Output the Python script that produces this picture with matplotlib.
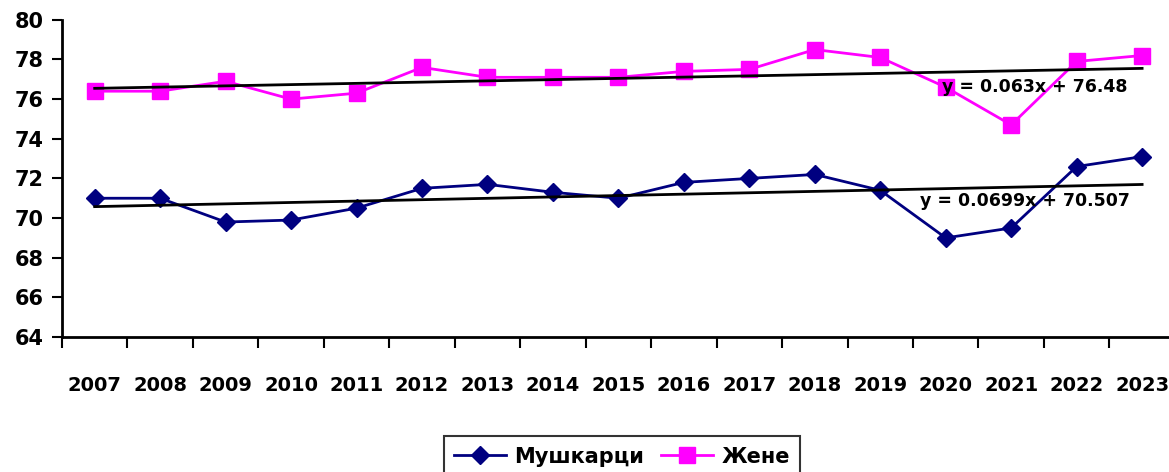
import numpy as np
import matplotlib.pyplot as plt

years = ['2007', '2008', '2009', '2010', '2011', '2012', '2013', '2014', '2015',
         '2016', '2017', '2018', '2019', '2020', '2021', '2022', '2023']
men = [71.0, 71.0, 69.8, 69.9, 70.5, 71.5, 71.7, 71.3, 71.0,
       71.8, 72.0, 72.2, 71.4, 69.0, 69.5, 72.6, 73.1]
women = [76.4, 76.4, 76.9, 76.0, 76.3, 77.6, 77.1, 77.1, 77.1,
         77.4, 77.5, 78.5, 78.1, 76.6, 74.7, 77.9, 78.2]

# trendline coefficients as printed on the chart (x = 1..n)
men_trend = (0.0699, 70.507)
women_trend = (0.063, 76.48)

plt.rcParams['font.family'] = 'DejaVu Sans'
plt.rcParams['font.weight'] = 'bold'

fig = plt.figure(figsize=(11.69, 4.72), dpi=100)
ax = fig.add_axes([0.053, 0.286, 0.952, 0.672])

x = np.arange(len(years))
ax.plot(x, men, color='#000080', lw=2, marker='D', ms=9, label='Мушкарци')
ax.plot(x, women, color='#FF00FF', lw=2, marker='s', ms=11, label='Жене')

# linear trendlines
n = np.arange(1, len(years) + 1)
ax.plot(x, men_trend[0] * n + men_trend[1], color='black', lw=2)
ax.plot(x, women_trend[0] * n + women_trend[1], color='black', lw=2)

ax.text(12.95, 76.6, 'y = 0.063x + 76.48', fontsize=12.5, fontweight='bold', va='center')
ax.text(12.6, 70.86, 'y = 0.0699x + 70.507', fontsize=12.5, fontweight='bold', va='center')

ax.set_xlim(-0.5, 16.5)
ax.set_ylim(64, 80)
ax.set_yticks(np.arange(64, 81, 2))
ax.tick_params(axis='y', labelsize=15, direction='out', length=7, width=1.5, pad=6)

ax.set_xticks(x)
ax.set_xticklabels(years, fontsize=14, fontweight='bold')
ax.set_xticks(np.arange(-0.5, 17, 1), minor=True)
ax.tick_params(axis='x', which='major', length=0, pad=28)
ax.tick_params(axis='x', which='minor', direction='out', length=8, width=1.5)

for s in ['top', 'right']:
    ax.spines[s].set_visible(False)
for s in ['left', 'bottom']:
    ax.spines[s].set_linewidth(2)

leg = fig.legend(loc='upper center', bbox_to_anchor=(0.532, 0.098), ncol=2,
                 fontsize=15, frameon=True, fancybox=False, edgecolor='black',
                 handlelength=2.5, columnspacing=0.8, handletextpad=0.4,
                 borderpad=0.5)
leg.get_frame().set_linewidth(1.5)

fig.savefig('out.png', dpi=100)
